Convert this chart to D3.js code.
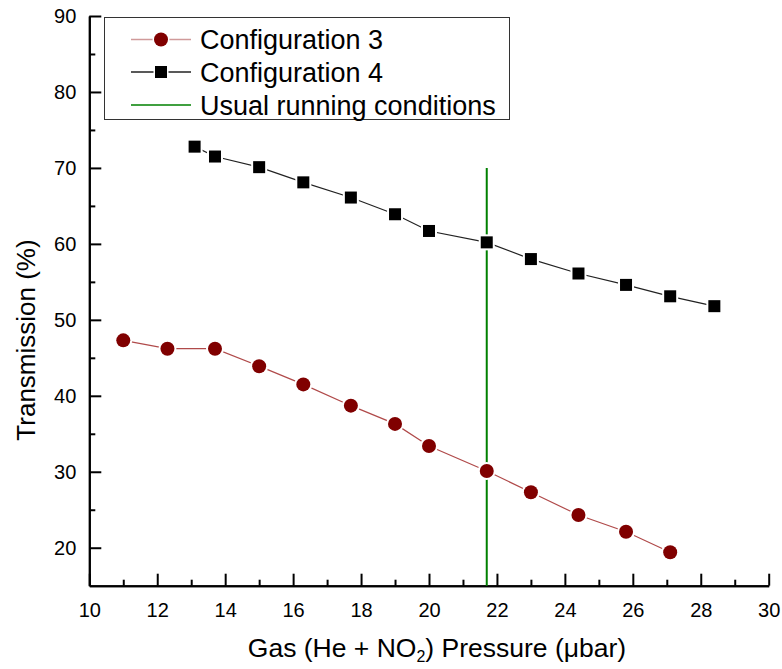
<!DOCTYPE html>
<html>
<head>
<meta charset="utf-8">
<script src="https://cdn.jsdelivr.net/npm/d3@7/dist/d3.min.js"></script>
<style>
  html, body { margin: 0; padding: 0; background: #fff; }
  svg { display: block; font-family: "Liberation Sans", Arial, sans-serif; }
</style>
</head>
<body>
<svg id="chart" width="782" height="669"></svg>
<script>
// Pressure (µbar) and transmission (%) for the two configurations
const pressure3 = [11.0, 12.3, 13.7, 15.0, 16.3, 17.7, 19.0, 20.0, 21.7, 23.0, 24.4, 25.8, 27.1];
const transmission3 = [47.3, 46.2, 46.2, 43.9, 41.5, 38.7, 36.3, 33.4, 30.1, 27.3, 24.3, 22.1, 19.4];

const pressure4 = [13.1, 13.7, 15.0, 16.3, 17.7, 19.0, 20.0, 21.7, 23.0, 24.4, 25.8, 27.1, 28.4];
const transmission4 = [72.8, 71.5, 70.1, 68.1, 66.1, 63.9, 61.7, 60.2, 58.0, 56.1, 54.6, 53.1, 51.8];

// Usual running conditions marker: vertical line at one pressure
const usualPressure = [21.7, 21.7];
const usualTransmission = [15, 70];

const xMajorTicks = [10, 12, 14, 16, 18, 20, 22, 24, 26, 28, 30];
const xMinorTicks = [11, 13, 15, 17, 19, 21, 23, 25, 27, 29];
const yMajorTicks = [20, 30, 40, 50, 60, 70, 80, 90];
const yMinorTicks = [25, 35, 45, 55, 65, 75, 85];

const legendLabels = ["Configuration 3", "Configuration 4", "Usual running conditions"];

const col3 = "#800000", line3 = "#b04a4a";
const col4 = "#000000", line4 = "#222222";
const colUsual = "#008000";

const svg = d3.select("#chart");

const x = d3.scaleLinear().domain([10, 30]).range([89.3, 768.7]);
const y = d3.scaleLinear().domain([15, 90]).range([585.7, 16]);

// Axes: ticks point inward, no top/right frame
const axisStyle = g => {
  g.select(".domain").attr("stroke", "#000").attr("stroke-width", 2);
  g.selectAll(".tick line").attr("stroke", "#000").attr("stroke-width", 2);
  g.selectAll(".tick text").attr("fill", "#000")
    .style("font-family", "'Liberation Sans', Arial, sans-serif").style("font-size", "20px");
};

svg.append("g")
  .attr("transform", `translate(0,${y.range()[0]})`)
  .call(d3.axisBottom(x).tickValues(xMinorTicks).tickSizeInner(-6).tickSizeOuter(0).tickFormat(""))
  .call(axisStyle);
svg.append("g")
  .attr("transform", `translate(0,${y.range()[0]})`)
  .call(d3.axisBottom(x).tickValues(xMajorTicks).tickSizeInner(-12).tickSizeOuter(0).tickPadding(17).tickFormat(d3.format("d")))
  .call(axisStyle);

svg.append("g")
  .attr("transform", `translate(${x.range()[0]},0)`)
  .call(d3.axisLeft(y).tickValues(yMinorTicks).tickSizeInner(-6).tickSizeOuter(0).tickFormat(""))
  .call(axisStyle);
svg.append("g")
  .attr("transform", `translate(${x.range()[0]},0)`)
  .call(d3.axisLeft(y).tickValues(yMajorTicks).tickSizeInner(-12).tickSizeOuter(0).tickPadding(13).tickFormat(d3.format("d")))
  .call(axisStyle);

// Axis titles
const xTitle = svg.append("text")
  .attr("x", 437)
  .attr("y", 657)
  .attr("text-anchor", "middle")
  .style("font-size", "26.5px")
  .attr("fill", "#000");
xTitle.append("tspan").text("Gas (He + NO");
xTitle.append("tspan").text("2").style("font-size", "16px").attr("dy", 5);
xTitle.append("tspan").text(") Pressure (μbar)").attr("dy", -5);

svg.append("text")
  .attr("transform", "translate(35,340) rotate(-90)")
  .attr("text-anchor", "middle")
  .style("font-size", "26px")
  .attr("fill", "#000")
  .text("Transmission (%)");

// Usual running conditions line
svg.append("line")
  .attr("x1", x(usualPressure[0])).attr("x2", x(usualPressure[1]))
  .attr("y1", y(usualTransmission[0])).attr("y2", y(usualTransmission[1]))
  .attr("stroke", colUsual).attr("stroke-width", 2);

// Series lines
const lineGen = d3.line().x(d => x(d[0])).y(d => y(d[1]));
const pts3 = pressure3.map((p, i) => [p, transmission3[i]]);
const pts4 = pressure4.map((p, i) => [p, transmission4[i]]);

svg.append("path").datum(pts4).attr("d", lineGen)
  .attr("fill", "none").attr("stroke", line4).attr("stroke-width", 1.2);
svg.append("path").datum(pts3).attr("d", lineGen)
  .attr("fill", "none").attr("stroke", line3).attr("stroke-width", 1.2);

// Markers with a white halo so the lines stop short of each symbol
const sq = 12;
svg.append("g").selectAll("rect").data(pts4).join("rect")
  .attr("x", d => x(d[0]) - sq / 2).attr("y", d => y(d[1]) - sq / 2)
  .attr("width", sq).attr("height", sq)
  .attr("fill", col4).attr("stroke", "#fff").attr("stroke-width", 4)
  .style("paint-order", "stroke");

svg.append("g").selectAll("circle").data(pts3).join("circle")
  .attr("cx", d => x(d[0])).attr("cy", d => y(d[1])).attr("r", 7)
  .attr("fill", col3).attr("stroke", "#fff").attr("stroke-width", 4)
  .style("paint-order", "stroke");

// Legend
const legend = svg.append("g");
legend.append("rect")
  .attr("x", 104.5).attr("y", 17.5).attr("width", 405).attr("height", 102)
  .attr("fill", "#fff").attr("stroke", "#333").attr("stroke-width", 1);

const rowY = [39.5, 72, 105];
const baseY = [49, 82, 114.5];
const lineCols = ["#d09a9a", line4, colUsual];
legendLabels.forEach((lab, i) => {
  legend.append("line")
    .attr("x1", 131).attr("x2", 191).attr("y1", rowY[i]).attr("y2", rowY[i])
    .attr("stroke", lineCols[i]).attr("stroke-width", 1.5);
  legend.append("text")
    .attr("x", 200).attr("y", baseY[i])
    .style("font-size", "27px").attr("fill", "#000")
    .text(lab);
});
legend.append("circle").attr("cx", 161).attr("cy", rowY[0]).attr("r", 7)
  .attr("fill", col3).attr("stroke", "#fff").attr("stroke-width", 3).style("paint-order", "stroke");
legend.append("rect").attr("x", 161 - sq / 2).attr("y", rowY[1] - sq / 2).attr("width", sq).attr("height", sq)
  .attr("fill", col4).attr("stroke", "#fff").attr("stroke-width", 3).style("paint-order", "stroke");
</script>
</body>
</html>
